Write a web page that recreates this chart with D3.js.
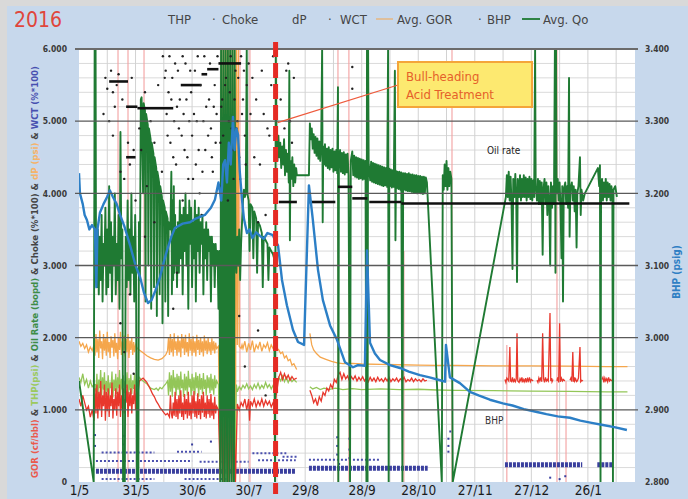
<!DOCTYPE html>
<html><head><meta charset="utf-8">
<script src="https://cdn.jsdelivr.net/npm/d3@7"></script>
<style>
body{margin:0;background:#fff;}
svg{display:block;}
text{font-family:"Liberation Sans Narrow","DejaVu Sans Condensed","Arial Narrow",sans-serif;}
</style></head><body>
<svg id="c" width="688" height="499"></svg>
<script>
// ---------------- DATA ----------------
// day offsets from 1 May 2016
const xTickDays = [0,30,60,90,120,150,180,210,240,270];
const xTickLabels = ["1/5","31/5","30/6","30/7","29/8","28/9","28/10","27/11","27/12","26/1"];
const yLeftTicks = [0,1000,2000,3000,4000,5000,6000];
const yLeftLabels = ["0","1.000","2.000","3.000","4.000","5.000","6.000"];
const yRightTicks = [2800,2900,3000,3100,3200,3300,3400];
const yRightLabels = ["2.800","2.900","3.000","3.100","3.200","3.300","3.400"];
const treatmentDay = 104.3;

// Avg. Qo (bopd)
const qo = [[0,1400],[7.8,0],[8.3,6000],[8.8,6000],[9,3300],[9.5,2700],[10,3500],[10.5,2600],[11,3400],[11.5,2800],[12,3700],[12.5,2500],[13,3300],[13.5,3000],[14,3800],[14.5,2600],[15,3500],[15.5,2700],[16,4100],[16.5,2900],[17,3600],[17.5,2500],[18,3400],[18.5,3000],[19,4000],[19.5,2600],[20,3300],[20.5,2800],[21,3700],[21.5,2400],[22,4850],[22.5,3100],[23,3500],[23.4,0],[24.3,0],[24.8,3400],[25.3,2700],[25.8,3900],[26.3,2800],[26.8,3500],[27.3,2600],[27.8,4000],[28.3,2900],[28.8,3400],[29.3,2500],[29.8,3700],[30.3,2800],[30.8,0],[31.5,0],[31.8,3600],[32.3,2800],[32.8,5300],[33.2,5330],[34,4000],[34.3,5250],[35,5150],[35.3,2500],[35.6,5100],[36.5,4950],[36.8,3000],[37.1,4900],[38,4750],[38.3,2400],[38.6,4700],[39.5,4550],[39.8,2700],[40.1,4500],[41,4350],[41.3,2300],[41.6,4300],[42.5,4150],[42.8,2600],[43.1,4100],[44,3950],[44.3,2200],[44.6,3900],[45.5,3800],[45.8,2500],[46.1,3750],[47,3650],[47.3,2300],[47.6,3600],[48.5,3500],[49,4300],[49.3,2600],[49.6,3900],[50,2800],[50.3,4100],[50.6,2900],[51,3700],[51.3,3000],[51.6,3500],[52,2700],[52.5,3600],[53,2900],[53.5,3900],[54,3100],[54.5,3700],[55,2600],[55.5,3800],[56,3200],[56.5,4000],[57,3000],[57.5,3700],[58,2400],[58.5,3900],[59,3300],[59.5,3800],[60,2700],[60.5,3600],[61,3100],[61.5,3900],[62,2500],[62.5,3700],[63,3200],[63.5,3800],[64,2900],[64.5,3600],[65,3300],[65.5,3700],[66,2600],[66.5,3500],[67,3100],[67.5,3600],[68,2800],[68.5,3500],[69,3200],[69.5,3400],[70,2500],[70.5,3400],[71,3000],[71.5,3300],[72,2700],[72.5,3300],[73,3000],[73.5,3200],[74,2400],[74.5,3200],[75,0],[75.4,6000],[75.8,2800],[76.2,0],[76.6,6000],[77,3000],[77.4,0],[77.8,6000],[78.2,3100],[78.6,0],[79,6000],[79.4,2900],[79.8,0],[80.2,6000],[80.6,3000],[81,0],[81.4,6000],[81.8,2800],[82.2,0],[82.6,6000],[83,3200],[83.5,2900],[84,3400],[84.5,3000],[85,3500],[85.5,2800],[86,3300],[86.5,3600],[87,3900],[87.5,4050],[88,3950],[88.5,4000],[89,6000],[89.3,4000],[90,3900],[90.5,3200],[91,3850],[92,3800],[92.5,3100],[93,3750],[94,3650],[94.5,2900],[95,3600],[96,3550],[97,3450],[97.5,2700],[98,3400],[99,3350],[100,3300],[100.5,2800],[101,3250],[102,3200],[103,3150],[103.5,3100],[104,0],[104.4,6000],[104.8,4700],[105.3,4450],[105.8,4800],[106.3,4500],[106.8,4700],[107.3,4350],[107.8,4650],[108.3,4400],[108.8,4750],[109.3,4250],[109.8,4600],[110.3,4300],[110.8,4550],[111.3,4150],[111.6,5700],[111.9,3350],[112.2,4450],[112.7,4200],[113.2,4500],[113.7,4100],[114.2,4400],[114.7,4150],[115.2,4350],[115.6,4250],[122,4250],[122.5,4970],[123,4750],[123.5,4900],[124,4620],[124.5,4820],[125,4560],[125.5,4780],[126,4520],[126.5,4760],[127,4480],[127.5,4720],[128,4450],[128.5,4700],[129,6000],[129.3,3600],[129.6,4650],[130,4400],[130.5,4680],[131,4380],[131.5,4620],[132,4350],[132.5,4640],[133,4330],[133.5,4600],[134,4360],[134.5,4620],[135,4300],[135.5,4580],[136,4320],[136.5,4600],[137,4280],[137.4,5470],[137.6,0],[137.9,4450],[138.5,4600],[139,4300],[139.5,4560],[140,4280],[140.5,4570],[141,4260],[141.5,4540],[142,4290],[142.5,4550],[143,4250],[143.8,0],[144.2,4450],[145,4580],[145.5,4250],[146,4520],[146.5,4230],[147,4500],[147.5,4220],[148,4490],[148.5,4200],[149,4480],[149.5,4210],[150,4470],[150.5,4190],[151,4460],[151.5,4200],[152,4450],[152.5,0],[152.8,6000],[153.1,0],[153.4,6000],[153.7,4420],[154.5,4180],[155,4440],[155.5,4160],[156,4420],[156.5,4150],[157,4410],[157.5,4140],[158,4400],[158.5,4130],[159,4390],[159.5,4120],[160,4380],[160.5,4110],[161,4370],[161.5,4100],[162,4360],[162.5,4110],[163,4350],[163.5,4090],[164,6000],[164.3,0],[164.6,4340],[165,4100],[165.5,4330],[166,4080],[166.5,4320],[167,4090],[167.6,5700],[167.9,3350],[168.2,4310],[168.5,4070],[169,4300],[169.5,4060],[170,4300],[170.5,4050],[171,4290],[171.6,0],[172,4280],[172.5,4050],[173,4280],[173.5,4040],[174,4270],[174.5,4030],[175,4280],[175.5,4030],[176,4260],[176.5,4020],[177,4260],[177.5,4010],[178,4250],[178.5,4010],[179,4250],[179.5,4000],[180,4240],[180.5,4010],[181,4240],[181.5,4000],[182,4230],[182.5,3990],[183,4230],[183.5,4000],[184,4220],[184.6,4150],[192.5,0],[193,4250],[193.5,4050],[194,4400],[194.5,4100],[195,4450],[195.5,4050],[196,4350],[196.5,4100],[197,4300],[197.6,4200],[198.3,0],[226.5,3950],[227,4250],[227.5,3950],[228,4300],[228.5,3900],[229,4230],[229.5,3850],[230,2950],[230.4,4200],[231,3950],[231.5,4270],[232,3900],[232.4,2770],[232.8,4200],[233.5,3950],[234,4250],[234.5,3900],[235,4200],[235.5,3950],[236,4250],[236.5,3950],[237,4220],[237.5,3900],[238,4200],[238.5,3950],[239,4230],[239.5,3920],[240,4200],[240.5,3900],[241,4180],[241.5,3950],[242,6000],[242.3,4100],[243,3900],[243.5,4200],[244,3850],[244.5,4170],[245,3850],[245.5,4150],[246,3150],[246.4,4050],[247,4200],[247.5,3850],[248,4150],[248.5,3700],[249,4100],[249.5,3900],[250,3000],[250.4,4150],[251,3800],[251.5,4100],[252,3850],[252.5,6000],[252.8,2900],[253.1,6000],[253.4,4000],[254,4200],[254.5,3900],[255,4150],[255.5,3800],[256,3100],[256.4,4100],[256.8,2500],[257.2,4050],[258,4150],[258.5,3850],[259,4100],[259.5,3800],[260,5600],[260.3,3400],[260.7,4050],[261.5,4150],[262,3900],[262.5,4100],[263,3750],[263.5,4050],[264,3250],[264.4,4000],[265,4100],[265.8,4500],[266.2,3700],[266.6,4050],[267.5,3900],[268.4,4000],[275.3,4350],[276,4100],[276.4,4390],[276.7,0],[277,4100],[277.5,4200],[278,3900],[278.5,4150],[279,3950],[279.5,4200],[280,3900],[280.5,4150],[281,3950],[281.5,4130],[282,3900],[282.5,4100],[283,3950],[283.3,0],[283.6,4050],[284.5,4100],[285.4,3950]];

// THP (psi)
const thp = [[0,1450],[1,1380],[2,1500],[3,1350],[4,1420],[5,1300],[6,1400],[7,1320],[8,1350],[8.6,1350],[9,1250],[9.5,1500],[10,1180],[10.5,1420],[11,1300],[11.5,1550],[12,1200],[12.5,1450],[13,1280],[13.5,1520],[14,1180],[14.5,1400],[15,1250],[15.5,1480],[16,1200],[16.5,1380],[17,1300],[17.5,1530],[18,1170],[18.5,1420],[19,1260],[19.5,1500],[20,1220],[20.5,1450],[21,1300],[21.5,1550],[22,1190],[22.5,1430],[23,1280],[23.5,1480],[24,1230],[24.5,1400],[25,1300],[25.5,1520],[26,1200],[26.5,1440],[27,1270],[27.5,1490],[28,1220],[28.5,1410],[29,1290],[29.5,1500],[30,1250],[30.5,1430],[31,1320],[32,1450],[33,1420],[34,1400],[35,1380],[36,1360],[37,1330],[38,1300],[39,1290],[40,1280],[41,1300],[42,1270],[43,1310],[44,1290],[45,1330],[46,1360],[47,1400],[47.5,1200],[48,1520],[48.5,1250],[49,1480],[49.5,1180],[50,1550],[50.5,1300],[51,1450],[51.5,1200],[52,1500],[52.5,1280],[53,1470],[53.5,1190],[54,1530],[54.5,1300],[55,1420],[55.5,1180],[56,1500],[56.5,1270],[57,1460],[57.5,1200],[58,1540],[58.5,1310],[59,1430],[59.5,1190],[60,1500],[60.5,1260],[61,1450],[61.5,1210],[62,1520],[62.5,1300],[63,1470],[63.5,1180],[64,1500],[64.5,1280],[65,1440],[65.5,1220],[66,1510],[66.5,1290],[67,1420],[67.5,1200],[68,1480],[68.5,1300],[69,1450],[69.5,1230],[70,1500],[70.5,1270],[71,1430],[71.5,1210],[72,1480],[72.5,1300],[73,1400],[74,1350],[75,0],[76,1400],[76.5,0],[77.5,1350],[78,0],[79,1300],[79.5,0],[80.5,1400],[81,0],[82,1300],[82.5,0],[83.5,1350],[84,1250],[85,1320],[86,1280],[87,1340],[88,1300],[89,1360],[90,1290],[91,1330],[92,1280],[93,1350],[94,1300],[95,1370],[96,1290],[97,1340],[98,1300],[99,1380],[100,1310],[101,1350],[102,1290],[103,1340],[104,1300],[106,1450],[107,1400],[108,1470],[109,1390],[110,1450],[111,1380],[112,1440],[113,1390],[114,1420],[115.5,1380],[116,null],[122.5,1320],[124,1290],[126,1310],[128,1280],[130,1300],[133,1285],[136,1300],[140,1280],[145,1295],[150,1280],[160,1290],[170,1280],[180,1285],[190,1275],[200,1270],[220,1265],[240,1260],[260,1255],[280,1250],[291,1250]];

// dP (psi)
const dp = [[0,1950],[1,1880],[2,1920],[3,1850],[4,1900],[5,1800],[6,1870],[7,1820],[8,1900],[8.5,1750],[9,2050],[9.5,1800],[10,1980],[10.5,1720],[11,2100],[11.5,1850],[12,1950],[12.5,1700],[13,2050],[13.5,1820],[14,1990],[14.5,1750],[15,2080],[15.5,1800],[16,1940],[16.5,1720],[17,2020],[17.5,1860],[18,1970],[18.5,1740],[19,2060],[19.5,1790],[20,1930],[20.5,1700],[21,2000],[21.5,1830],[22,2080],[22.5,1760],[23,1950],[23.5,1820],[24,2030],[24.5,1740],[25,1980],[25.5,1800],[26,2050],[26.5,1720],[27,1960],[27.5,1830],[28,2000],[28.5,1760],[29,1940],[29.5,1800],[30,1900],[31,1850],[32,1830],[34,1790],[36,1750],[38,1720],[40,1700],[42,1690],[44,1710],[46,1760],[47,1820],[47.5,2000],[48,1760],[48.5,2050],[49,1800],[49.5,1980],[50,1740],[50.5,2060],[51,1830],[51.5,1950],[52,1750],[52.5,2030],[53,1800],[53.5,1960],[54,1730],[54.5,2050],[55,1850],[55.5,1990],[56,1760],[56.5,2040],[57,1800],[57.5,1940],[58,1740],[58.5,2060],[59,1820],[59.5,1980],[60,1750],[60.5,2020],[61,1790],[61.5,1950],[62,1740],[62.5,2040],[63,1830],[63.5,1970],[64,1760],[64.5,2010],[65,1800],[65.5,1950],[66,1740],[66.5,2030],[67,1820],[67.5,1960],[68,1770],[68.5,2000],[69,1810],[69.5,1940],[70,1760],[70.5,1990],[71,1820],[71.5,1950],[72,1780],[72.5,1930],[73,1850],[74,1880],[75,0],[75.5,6000],[76,1900],[76.5,6000],[77,0],[77.5,6000],[78,1850],[78.5,6000],[79,0],[79.5,6000],[80,1900],[80.5,6000],[81,0],[81.5,6000],[82,1850],[82.5,6000],[83,0],[83.5,6000],[84,1900],[84.5,6000],[85,1880],[86,1850],[86.5,1900],[87,1850],[88,1950],[89,1800],[90,1920],[91,1830],[92,1960],[93,1800],[94,1900],[95,1850],[96,1940],[97,1810],[98,1900],[99,1860],[100,1930],[101,1820],[102,1900],[103,1850],[104,1880],[106,1830],[107,1780],[108,1800],[109,1720],[110,1750],[111,1680],[112,1700],[113,1620],[114,1640],[115.5,1560],[116,null],[122.5,2060],[123.5,1900],[124.5,1830],[126,1780],[128,1730],[131,1700],[134,1670],[137,1650],[140,1640],[145,1645],[150,1635],[160,1630],[170,1625],[180,1620],[190,1615],[200,1615],[220,1610],[240,1610],[260,1605],[280,1600],[291,1600]];

// Avg. GOR (cf/bbl)
const gor = [[0,1150],[1,1050],[2,1200],[3,1100],[4,1000],[5,1050],[6,900],[7,1000],[8,850],[8.5,1300],[9,950],[9.5,1350],[10,880],[10.5,1250],[11,1000],[11.5,1400],[12,900],[12.5,1200],[13,1050],[13.5,1350],[14,850],[14.5,1250],[15,980],[15.5,1300],[16,900],[16.5,1200],[17,1050],[17.5,1380],[18,880],[18.5,1150],[19,1000],[19.5,1300],[20,920],[20.5,1250],[21,1050],[21.5,1350],[22,900],[22.5,1200],[23,1000],[23.5,1300],[24,950],[24.5,1150],[25,1100],[25.5,1350],[26,900],[26.5,1250],[27,1050],[27.5,1300],[28,950],[28.5,1200],[29,1080],[29.5,1350],[30,1000],[30.5,1250],[31,1150],[32,1400],[33,1420],[34,1440],[35,1410],[36,1380],[37,1330],[38,1280],[39,1220],[40,1180],[41,1120],[42,1080],[43,1030],[44,1000],[45,960],[46,930],[47,950],[48,900],[48.5,1200],[49,950],[49.5,880],[50,1100],[50.5,920],[51,1250],[51.5,900],[52,1150],[52.5,870],[53,1200],[53.5,950],[54,1270],[54.5,900],[55,1100],[55.5,860],[56,1220],[56.5,940],[57,1150],[57.5,880],[58,1250],[58.5,920],[59,1100],[59.5,870],[60,1200],[60.5,950],[61,1260],[61.5,900],[62,1120],[62.5,880],[63,1230],[63.5,930],[64,1150],[64.5,870],[65,1200],[65.5,960],[66,1250],[66.5,900],[67,1100],[67.5,880],[68,1200],[68.5,940],[69,1150],[69.5,890],[70,1220],[70.5,920],[71,1100],[71.5,870],[72,1180],[72.5,950],[73,1050],[74,1000],[75,0],[76,1100],[77,0],[78,1050],[79,0],[80,1100],[81,0],[82,1000],[83,0],[84,1080],[85,1000],[86,1100],[87,1050],[88,1150],[89,1000],[90,1150],[90.5,850],[91,1120],[92,1060],[93,1150],[94,1040],[95,1120],[96,1060],[97,1150],[98,1050],[99,1130],[100,1070],[101,1120],[102,1040],[103,1100],[104,1080],[106,1450],[107,1520],[108,1420],[109,1500],[110,1430],[111,1480],[112,1410],[113,1460],[114,1420],[115.5,1440],[116,null],[122.5,1270],[123.5,1200],[124.5,1100],[125.5,1150],[126.5,1060],[127.5,1180],[128.5,1120],[129.5,1240],[130.5,1200],[131.5,1300],[132.5,1260],[133.5,1350],[134.5,1300],[135.5,1420],[136.5,1380],[137.5,1480],[138.5,1520],[139.5,1420],[140.5,1500],[141.5,1430],[142.5,1470],[143.5,1400],[144.5,1460],[145.5,1420],[146.5,1470],[147.5,1400],[148.5,1450],[149.5,1410],[150.5,1460],[151.5,1400],[152.5,1440],[153.5,1390],[154.5,1450],[155.5,1400],[156.5,1440],[157.5,1390],[158.5,1450],[159.5,1400],[160.5,1430],[161.5,1390],[162.5,1440],[163.5,1400],[164.5,1450],[165.5,1390],[166.5,1430],[167.5,1400],[168.5,1440],[169.5,1390],[170.5,1430],[171.5,1400],[172.5,1450],[173.5,1390],[174.5,1420],[175.5,1400],[176.5,1440],[177.5,1390],[178.5,1430],[179.5,1400],[180.5,1420],[181.5,1390],[182.5,1430],[183.5,1400],[184.6,1410],[185,null],[226,1420],[226.5,1380],[227,1440],[228,1400],[228.6,1870],[229,1400],[229.5,1390],[230,1450],[230.5,1380],[231,1420],[231.5,1390],[232,1430],[232.4,2060],[232.8,1400],[233.5,1380],[234,1430],[234.5,1400],[235,1450],[235.5,1380],[236,1420],[236.5,1390],[237,1440],[237.5,1380],[238,1430],[238.5,1400],[239,1450],[239.5,1390],[240,1420],[241,1400],[241.2,null],[243,1410],[243.5,1380],[244,1440],[244.5,1400],[245,1450],[245.5,1390],[246,2060],[246.5,1430],[247,1380],[247.5,1450],[248,1400],[248.5,1420],[249,1400],[249.9,2340],[250.3,1400],[250.8,1440],[251,1390],[251.5,1420],[251.7,null],[253.6,1400],[254,1450],[254.5,1380],[255,2200],[255.4,1390],[256,1440],[256.5,1400],[257,1420],[257.8,1400],[258,null],[260.5,1410],[261,1440],[261.5,1390],[262,1800],[262.4,1390],[262.8,1450],[263,1400],[263.5,1430],[264,1390],[264.4,1400],[265,1440],[265.8,1870],[266.2,1390],[266.8,1410],[267.4,1400],[267.6,null],[277.5,1420],[278,1450],[278.5,1380],[279,1440],[279.5,1400],[280,1430],[280.5,1390],[281,1450],[281.5,1400],[282,1420],[282.8,1400]];

// GOR excursions (thin vertical traces): [day, top value]
const gorSpikes = [[20.7,6000],[26,6000],[34.5,6000],[85.4,6000],[90.7,6000],[137.4,6000],[143.2,6000],[172.4,3200],[197.9,6000],[227,1900],[253.6,6000],[258.4,1400]];

// BHP (psig) - right axis
const bhp = [[0,3228],[0.5,3200],[2,3185],[3,3170],[4.2,3163],[5.5,3150],[6.9,3156],[8.5,3150],[9.2,3070],[9.8,3150],[11.1,3173],[13,3185],[14.9,3195],[16.4,3204],[18,3195],[20,3185],[21.8,3170],[24,3155],[27.1,3128],[30,3100],[32.4,3084],[34.5,3062],[36.6,3048],[38.5,3052],[40.5,3065],[43,3084],[45,3105],[46.7,3121],[49,3140],[50.9,3152],[55,3158],[58.9,3160],[62,3165],[66.8,3170],[70,3180],[72.1,3191],[74,3215],[75.5,3190],[76.5,3240],[77.5,3246],[78.5,3215],[79.5,3270],[80.5,3240],[81.7,3306],[82.5,3260],[83.5,3290],[84.4,3281],[85.3,3230],[86.5,3191],[87.5,3165],[89.1,3145],[90.5,3150],[92,3138],[94,3146],[96,3141],[98,3137],[100,3145],[102.9,3142],[104,3135],[105.6,3128],[107.7,3080],[110.3,3045],[113.5,3011],[116.2,2994],[119.4,2990],[122,3211],[124,3165],[126.8,3094],[129.4,3052],[133.2,3017],[136.9,2997],[141.1,2966],[145.4,2959],[148,2962],[151.7,2961],[152.8,3121],[154.4,2993],[157,2978],[159.7,2969],[165,2962],[170.3,2958],[175,2953],[180.9,2948],[186,2945],[191.5,2941],[194.2,2939],[194.7,2990],[196.8,2945],[202.1,2937],[207.4,2925],[212,2920],[218,2914],[224.9,2909],[230,2906],[236,2901],[243,2897],[248,2894],[254,2891],[260.5,2889],[266,2885],[272,2882],[278,2879],[284,2876],[290.7,2872]];

// Choke (%*100): dense runs [startDay, endDay, value] and scattered readings [day, value]
const chokeRuns = [[16,26,5550],[25,31,5200],[31,50,5180],[25,30,4500],[54,65,5500],[65,68,5650],[68,74,5720],[74,86,5800],[106,115.6,3880],[122,136,3880],[137.4,145,4090],[145,153,3930],[154,171,3880],[171,292,3860]];
const chokeDots = [[13,5100],[14,5600],[15,5450],[16,5000],[17,5700],[18,5400],[18,4800],[19,5200],[20,5500],[21,5650],[22,4300],[23,5300],[24,4200],[26,4700],[27,4400],[28,5600],[29,4600],[30,3900],[32,4900],[33,4600],[35,5400],[35,3400],[36,4100],[38,5000],[40,4700],[40,3600],[42,5500],[44,4300],[44.5,5900],[45.5,5600],[46,5700],[46.5,5100],[47,4800],[47.5,5400],[48,5900],[48.5,4700],[49,5300],[49.5,5600],[50,4500],[50.5,5000],[51,5800],[51.5,4400],[52,5200],[52.5,5700],[53,4900],[53.5,5300],[54.5,4800],[55,5900],[55,3900],[55.5,5100],[56,4600],[56.5,5800],[57,5300],[57.5,4500],[58,4200],[58.5,5000],[59,5700],[59.5,5400],[60,4800],[60.5,4200],[61,5100],[61.5,5700],[62,4400],[62.5,5000],[63,5900],[63.5,4600],[64,4000],[64.5,5500],[65,3700],[65.5,4300],[66,5000],[66.5,5900],[67,4600],[67.5,5200],[68.5,4800],[69,5300],[69.5,5800],[70,4900],[70.5,4500],[71,4300],[71.5,5200],[72,5500],[72.5,4700],[73,5100],[73.5,5900],[74.5,4100],[75,4700],[75.5,5200],[76,5300],[76.5,4800],[77,4400],[77.5,5500],[78,5600],[78.5,4300],[79,3900],[79.5,5000],[80,5400],[80.5,5900],[81,4900],[81.5,4600],[82,4200],[82.5,5300],[83,5700],[83.5,4900],[84,5000],[84.5,5600],[85,4500],[85.5,4200],[86,5900],[86.5,5100],[87,5300],[87.5,5700],[88,4800],[88.5,4400],[89,5500],[90,5800],[91,5100],[92,5600],[93,4500],[94,5300],[95,3600],[96,4400],[97,5700],[98,5100],[99,3700],[100,4900],[101,4800],[102,5500],[103,5900],[107,5300],[109,4900],[110,5700],[111,5800],[112,5000],[113,4700],[114,5600],[22,2200],[24,1800],[27,2600],[29,1500],[50,2400],[52,2900],[85,2300],[88,1600],[95,2100],[99,1200],[145,5750],[145,5450]];

// WCT (%*100): dense bands [startDay, endDay, value] and scattered readings
const wctBands = [[9,115,150],[122,185,190],[226,267,240],[275,283,240]];
const wctRows = [[9,60,290],[64,90,280],[95,115,300],[12,40,410],[52,65,420],[92,110,400],[12,40,40],[56,80,40],[108,116,350],[122,160,310]];
const wctDots = [[8.5,500],[8.5,650],[23.5,520],[24,640],[31,480],[31,700],[60,520],[70,560],[137,500],[137,380],[137,620],[138,250],[143.5,450],[143.5,600],[143.5,330],[152.8,520],[152.8,400],[152.8,650],[153,300],[196,500],[196,600],[196,420],[197,700],[250,60],[255,40],[258,80]];

// ---------------- DRAW ----------------
const svg = d3.select("#c");
const W = 688, H = 499;
const START = Date.UTC(2016,4,1);
const toDate = d => new Date(START + d*864e5);
const x = d3.scaleUtc().domain([toDate(0), toDate(295)]).range([79,635]);
const yL = d3.scaleLinear().domain([0,6000]).range([482,49]);
const yR = d3.scaleLinear().domain([2800,3400]).range([482,49]);
const X = d => x(toDate(d));

// background frame
svg.append("rect").attr("width",W).attr("height",H).attr("fill","#d9d9d9");
svg.append("rect").attr("x",7).attr("y",6).attr("width",W-7).attr("height",H-6).attr("fill","#c7d8ec");
// plot area
svg.append("rect").attr("x",79).attr("y",49).attr("width",556).attr("height",433).attr("fill","#ffffff");

svg.append("defs").append("clipPath").attr("id","clip")
  .append("rect").attr("x",79).attr("y",49).attr("width",556).attr("height",433);

const g = svg.append("g").attr("clip-path","url(#clip)");

// minor grid
const minor = d3.range(200,6000,200).filter(v => v % 1000 !== 0);
g.selectAll(".hm").data(minor).join("line")
  .attr("x1",79).attr("x2",635).attr("y1",d=>yL(d)).attr("y2",d=>yL(d))
  .attr("stroke","#dadada").attr("stroke-width",1);
g.selectAll(".vm").data(d3.range(15,295,15)).join("line")
  .attr("x1",d=>X(d)).attr("x2",d=>X(d)).attr("y1",49).attr("y2",482)
  .attr("stroke","#d2d2d2").attr("stroke-width",1);

// major grid
svg.selectAll(".hM").data(yLeftTicks.filter(v=>v>0)).join("line")
  .attr("x1",75).attr("x2",638).attr("y1",d=>yL(d)).attr("y2",d=>yL(d))
  .attr("stroke",d=> d===6000 ? "#6b6b6b" : "#5a5a5a").attr("stroke-width",d=> d===6000 ? 2.2 : 1.3);

// GOR spike traces
g.selectAll(".gs").data(gorSpikes).join("line")
  .attr("x1",d=>X(d[0])).attr("x2",d=>X(d[0])).attr("y1",yL(0)).attr("y2",d=>yL(d[1]))
  .attr("stroke","#f3a0a0").attr("stroke-width",1.1);

const lineL = d3.line().defined(d=>d[1]!=null).x(d=>X(d[0])).y(d=>yL(d[1]));
const lineR = d3.line().defined(d=>d[1]!=null).x(d=>X(d[0])).y(d=>yR(d[1]));

// WCT
g.selectAll(".wb").data(wctBands).join("line")
  .attr("x1",d=>X(d[0])).attr("x2",d=>X(d[1])).attr("y1",d=>yL(d[2])).attr("y2",d=>yL(d[2]))
  .attr("stroke","#3a3f9e").attr("stroke-width",5).attr("stroke-dasharray","3,1");
g.selectAll(".wr").data(wctRows).join("line")
  .attr("x1",d=>X(d[0])).attr("x2",d=>X(d[1])).attr("y1",d=>yL(d[2])).attr("y2",d=>yL(d[2]))
  .attr("stroke","#4a4fae").attr("stroke-width",2).attr("stroke-dasharray","2,2");
g.selectAll(".wd").data(wctDots).join("rect")
  .attr("x",d=>X(d[0])-1).attr("y",d=>yL(d[1])-1).attr("width",2).attr("height",2).attr("fill","#3a3f9e");

// THP, dP, GOR
g.append("path").datum(dp).attr("d",lineL).attr("fill","none").attr("stroke","#f5a64c").attr("stroke-width",1.3);
g.append("path").datum(thp).attr("d",lineL).attr("fill","none").attr("stroke","#93c658").attr("stroke-width",1.3);
g.append("path").datum(gor).attr("d",lineL).attr("fill","none").attr("stroke","#e8372c").attr("stroke-width",1.3);

// Avg Qo
g.append("path").datum(qo).attr("d",lineL).attr("fill","none").attr("stroke","#1f7a33").attr("stroke-width",1.9).attr("stroke-linejoin","round");

// Choke
g.selectAll(".cr").data(chokeRuns).join("line")
  .attr("x1",d=>X(d[0])).attr("x2",d=>X(d[1])).attr("y1",d=>yL(d[2])).attr("y2",d=>yL(d[2]))
  .attr("stroke","#111").attr("stroke-width",2.6);
g.selectAll(".cd").data(chokeDots).join("circle")
  .attr("cx",d=>X(d[0])).attr("cy",d=>yL(d[1])).attr("r",1.2).attr("fill","#222");

// BHP
g.append("path").datum(bhp).attr("d",lineR).attr("fill","none").attr("stroke","#2c7fc6").attr("stroke-width",2.4).attr("stroke-linejoin","round");

// treatment line
svg.append("line").attr("x1",X(treatmentDay)).attr("x2",X(treatmentDay)).attr("y1",42).attr("y2",494)
  .attr("stroke","#e52b24").attr("stroke-width",5).attr("stroke-dasharray","15,6");

// annotation
const ax = X(treatmentDay)+2, ay = yL(4980);
svg.append("line").attr("x1",ax).attr("y1",ay).attr("x2",398).attr("y2",85).attr("stroke","#ee5a3c").attr("stroke-width",1.2);
svg.append("rect").attr("x",398).attr("y",62).attr("width",134).attr("height",45)
  .attr("fill","#fde970").attr("stroke","#f4a53a").attr("stroke-width",2);
svg.append("text").attr("x",406).attr("y",81).attr("font-size",13).attr("fill","#e5602a").text("Bull-heading");
svg.append("text").attr("x",406).attr("y",99).attr("font-size",13).attr("fill","#e5602a").text("Acid Treatment");
svg.append("text").attr("x",487).attr("y",154).attr("font-size",10).attr("fill","#222").text("Oil rate");
svg.append("text").attr("x",485).attr("y",424).attr("font-size",10).attr("fill","#333").text("BHP");

// axes
const axB = d3.axisBottom(x).tickValues(xTickDays.map(toDate)).tickFormat((d,i)=>xTickLabels[i]).tickSize(0).tickPadding(0);
const gb = svg.append("g").attr("transform","translate(0,482)").call(axB);
gb.select(".domain").remove();
gb.selectAll("text").attr("font-size",13.5).attr("fill","#1a1a1a").attr("dy","13px")
  .style("font-family",'"Liberation Sans Narrow","DejaVu Sans Condensed",sans-serif');

const axL = d3.axisLeft(yL).tickValues(yLeftTicks).tickFormat((d,i)=>yLeftLabels[i]).tickSize(0).tickPadding(9);
const gl = svg.append("g").attr("transform","translate(76,0)").call(axL);
gl.select(".domain").remove();
gl.selectAll("text").attr("font-size",8.5).attr("font-weight","bold").attr("fill","#3a3a3a")
  .style("font-family",'"Liberation Sans Narrow","DejaVu Sans Condensed",sans-serif');

const axR = d3.axisRight(yR).tickValues(yRightTicks).tickFormat((d,i)=>yRightLabels[i]).tickSize(0).tickPadding(7);
const gr = svg.append("g").attr("transform","translate(638,0)").call(axR);
gr.select(".domain").remove();
gr.selectAll("text").attr("font-size",8.5).attr("font-weight","bold").attr("fill","#3a3a3a")
  .style("font-family",'"Liberation Sans Narrow","DejaVu Sans Condensed",sans-serif');

// axis titles
const lt = svg.append("text").attr("transform","translate(38,272) rotate(-90)")
  .attr("text-anchor","middle").attr("font-size",9.5).attr("font-weight","bold");
[["GOR (cf/bbl)","#ea5a4e"],[" & ","#444"],["THP(psi)","#9cc95e"],[" & ","#444"],["Oil Rate (bopd)","#3d8c46"],[" & Choke (%*100) & ","#444"],["dP (psi)","#f5b36a"],[" & ","#444"],["WCT (%*100)","#4750b0"]]
  .forEach(p => lt.append("tspan").attr("fill",p[1]).text(p[0]));
svg.append("text").attr("transform","translate(680,272) rotate(-90)")
  .attr("text-anchor","middle").attr("font-size",10).attr("font-weight","bold").attr("fill","#2f7fc4").text("BHP (psig)");

// header legend
const ly = 24;
svg.append("text").attr("x",14).attr("y",ly+3).attr("font-size",21).attr("fill","#e0463c").text("2016");
const leg = [["THP",168],["·",212],["Choke",222],["dP",292],["·",328],["WCT",340],["Avg. GOR",397],["·",478],["BHP",487],["Avg. Qo",543]];
leg.forEach(l => svg.append("text").attr("x",l[1]).attr("y",ly).attr("font-size",13).attr("fill","#454545").text(l[0]));
svg.append("line").attr("x1",376).attr("x2",393).attr("y1",ly-5).attr("y2",ly-5).attr("stroke","#f5a64c").attr("stroke-width",1);
svg.append("line").attr("x1",522).attr("x2",540).attr("y1",ly-5).attr("y2",ly-5).attr("stroke","#1f7a33").attr("stroke-width",1.8);
</script></body></html>
